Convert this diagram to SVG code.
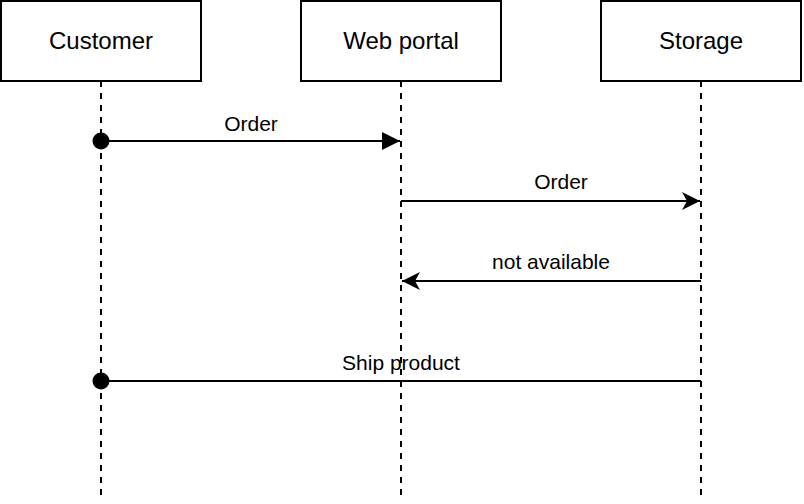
<svg xmlns="http://www.w3.org/2000/svg" width="804" height="504" viewBox="0 0 804 504">
<style>
.box{fill:#fff;stroke:#000;stroke-width:2}
.life{stroke:#000;stroke-width:2;stroke-dasharray:6 6;fill:none}
.msg{stroke:#000;stroke-width:2;fill:none}
.t{font-family:"Liberation Sans",Arial,sans-serif;fill:#000;text-anchor:middle}
.big{font-size:24px}
.small{font-size:21px}
</style>
<defs>
<marker id="block" markerUnits="userSpaceOnUse" markerWidth="20" markerHeight="20" refX="18" refY="9" orient="auto" viewBox="0 0 20 18">
<path d="M0,0 L18,9 L0,18 Z" fill="#000"/>
</marker>
<marker id="classic" markerUnits="userSpaceOnUse" markerWidth="20" markerHeight="20" refX="18" refY="9" orient="auto" viewBox="0 0 20 18">
<path d="M0,0 L18,9 L0,18 L5,9 Z" fill="#000"/>
</marker>
</defs>
<g id="customer">
<rect class="box" x="1" y="1" width="200" height="80"/>
<text class="t big" x="101" y="49">Customer</text>
</g>
<g id="webportal">
<rect class="box" x="301" y="1" width="200" height="80"/>
<text class="t big" x="401" y="49">Web portal</text>
</g>
<g id="storage">
<rect class="box" x="601" y="1" width="200" height="80"/>
<text class="t big" x="701" y="49">Storage</text>
</g>
<g id="connectors">
<line class="life" x1="101" y1="81" x2="101" y2="496"/>
<line class="life" x1="401" y1="81" x2="401" y2="496"/>
<line class="life" x1="701" y1="81" x2="701" y2="496"/>
<line class="msg" x1="101" y1="141" x2="400" y2="141" marker-end="url(#block)"/>
<circle cx="101" cy="141" r="8.5" fill="#000"/>
<text class="t small" x="251" y="131">Order</text>
<line class="msg" x1="401" y1="201" x2="700" y2="201" marker-end="url(#classic)"/>
<text class="t small" x="561" y="189">Order</text>
<line class="msg" x1="701" y1="281" x2="402" y2="281" marker-end="url(#classic)"/>
<text class="t small" x="551" y="269">not available</text>
<line class="msg" x1="101" y1="381" x2="701" y2="381"/>
<circle cx="101" cy="381" r="8.5" fill="#000"/>
<text class="t small" x="401" y="370">Ship product</text>
</g>
</svg>
